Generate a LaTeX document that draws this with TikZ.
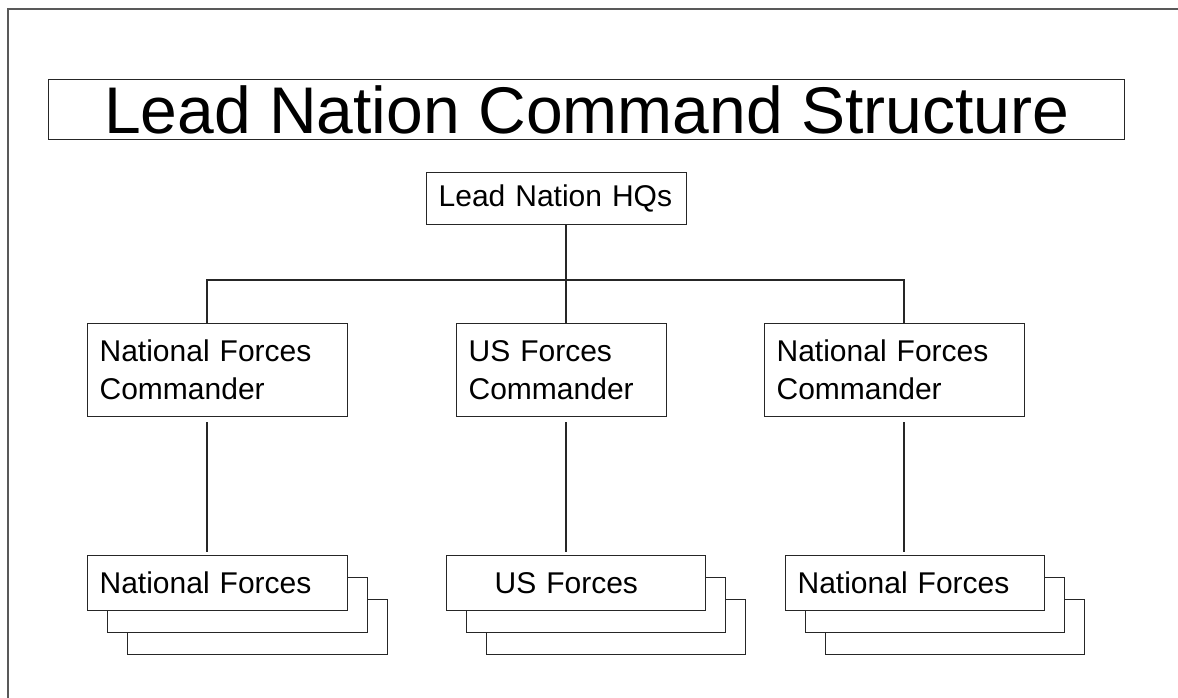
\documentclass[tikz,border=0pt]{standalone}
\usepackage{fontspec}
\setmainfont{Liberation Sans}
\begin{document}
\begin{tikzpicture}[x=1pt,y=-1pt,
  line/.style={draw=black!85,line width=1.3pt},
  orgbox/.style={line, fill=white, anchor=north west, inner xsep=12pt,
    inner ysep=0pt, align=left, font=\fontsize{30}{38}\selectfont},
  link/.style={line, shorten <=5pt, shorten >=3pt}]
\useasboundingbox (0,0) rectangle (1178,698);
\fill[white] (0,0) rectangle (1178,698);
% page frame (left and top edges only)
\draw[draw=black!65, line width=2pt] (8,698) -- (8,9) -- (1178,9);

% title banner
\node[line, anchor=north west, minimum width=1076pt, minimum height=60pt,
  inner sep=0pt, font=\fontsize{66}{70}\selectfont] (title) at (48,79)
  {Lead Nation Command Structure};

% headquarters
\node[orgbox, text width=236pt, minimum height=52pt] (hq) at (426,172) {Lead Nation HQs};

% commanders
\node[orgbox, text width=236pt, minimum height=93pt] (cl) at (87,323) {National Forces\\Commander};
\node[orgbox, text width=186pt, minimum height=93pt] (cm) at (456,323) {US Forces\\Commander};
\node[orgbox, text width=236pt, minimum height=93pt] (cr) at (764,323) {National Forces\\Commander};

% stacked force boxes (back to front)
\node[orgbox, text width=236pt, minimum height=55pt] (fl3) at (127,599) {};
\node[orgbox, text width=236pt, minimum height=55pt] (fl2) at (107,577) {};
\node[orgbox, text width=236pt, minimum height=55pt] (fl) at (87,555) {National Forces};

\node[orgbox, text width=235pt, minimum height=55pt] (fm3) at (486,599) {};
\node[orgbox, text width=235pt, minimum height=55pt] (fm2) at (466,577) {};
\node[orgbox, text width=235pt, minimum height=55pt] (fm) at (446,555) {\hspace*{36pt}US Forces};

\node[orgbox, text width=235pt, minimum height=55pt] (fr3) at (825,599) {};
\node[orgbox, text width=235pt, minimum height=55pt] (fr2) at (805,577) {};
\node[orgbox, text width=235pt, minimum height=55pt] (fr) at (785,555) {National Forces};

% connectors
\coordinate (bus) at (566,280);
\coordinate (busl) at (207,280);
\coordinate (busr) at (904,280);
\draw[line] (bus |- hq.south) -- (bus);
\draw[line] (busl |- cl.north) -- (busl) -- (busr) -- (busr |- cr.north);
\draw[line] (bus) -- (bus |- cm.north);
\draw[link] (busl |- cl.south) -- (busl |- fl.north);
\draw[link] (bus |- cm.south) -- (bus |- fm.north);
\draw[link] (busr |- cr.south) -- (busr |- fr.north);
\end{tikzpicture}
\end{document}
